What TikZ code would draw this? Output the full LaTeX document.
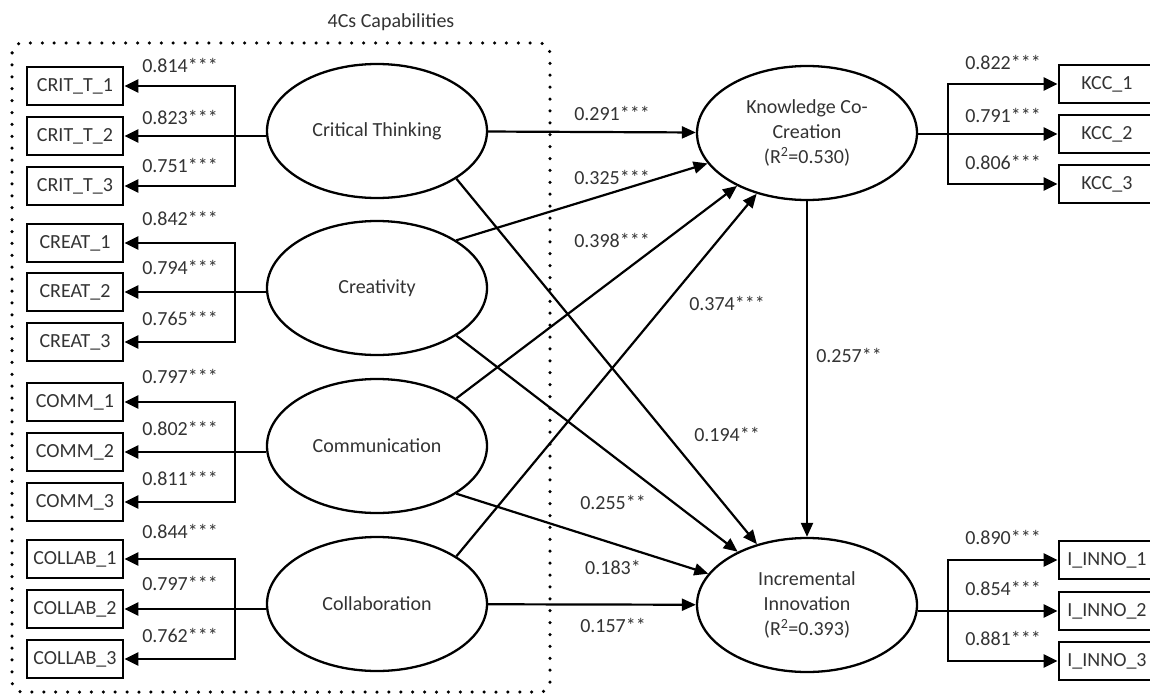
\documentclass[tikz,border=0pt]{standalone}
\usepackage{fontspec}
\setmainfont{Carlito}
\usetikzlibrary{arrows.meta,shapes.geometric}
\begin{document}
\begin{tikzpicture}[x=1pt,y=-1pt,
  every node/.style={font=\fontsize{20}{25}\selectfont, text=black!80},
  ind/.style={draw=black, line width=2.8pt, minimum width=96pt, minimum height=38pt, inner sep=0pt},
  lat/.style={ellipse, draw=black, line width=2.3pt, minimum width=220pt, minimum height=134pt, inner sep=0pt, align=center},
  tip/.style={Triangle[length=14pt,width=13pt]},
  ld/.style={line width=2.5pt, -{Triangle[length=14pt,width=13pt]}},
  ldd/.style={line width=2.5pt, {Triangle[length=14pt,width=13pt]}-{Triangle[length=14pt,width=13pt]}},
  pth/.style={line width=2.2pt, -{Triangle[length=14pt,width=12pt]}},
  frame/.style={line width=3.5pt, line cap=round, dash pattern=on 0pt off 11.9pt, rounded corners=10pt}
  ]
\useasboundingbox (0,0) rectangle (1150,693);

% frame
\draw[frame] (12,43) rectangle (550,692);
\node (title) at (391,22) {4Cs Capabilities};

% latent variables
\node[lat] (ct) at (377,131) {Critical Thinking};
\node[lat] (cr) at (377,288) {Creativity};
\node[lat] (cm) at (377,446) {Communication};
\node[lat] (cl) at (377,604) {Collaboration};
\node[lat] (kcc) at (807,133) {Knowledge Co-\\Creation\\(R\textsuperscript{2}=0.530)};
\node[lat] (ii) at (807,605) {Incremental\\Innovation\\(R\textsuperscript{2}=0.393)};

% indicators left
\node[ind] (c1) at (75,86) {CRIT\_T\_1};
\node[ind] (c2) at (75,136) {CRIT\_T\_2};
\node[ind] (c3) at (75,186) {CRIT\_T\_3};
\node[ind] (r1) at (75,243) {CREAT\_1};
\node[ind] (r2) at (75,292) {CREAT\_2};
\node[ind] (r3) at (75,342) {CREAT\_3};
\node[ind] (m1) at (75,402) {COMM\_1};
\node[ind] (m2) at (75,452) {COMM\_2};
\node[ind] (m3) at (75,502) {COMM\_3};
\node[ind] (l1) at (75,559) {COLLAB\_1};
\node[ind] (l2) at (75,609) {COLLAB\_2};
\node[ind] (l3) at (75,659) {COLLAB\_3};

% indicators right
\node[ind] (k1) at (1107,84) {KCC\_1};
\node[ind] (k2) at (1107,134) {KCC\_2};
\node[ind] (k3) at (1107,184) {KCC\_3};
\node[ind] (i1) at (1107,560) {I\_INNO\_1};
\node[ind] (i2) at (1107,611) {I\_INNO\_2};
\node[ind] (i3) at (1107,661) {I\_INNO\_3};

\coordinate (lj) at (235,0);
\coordinate (rj) at (948,0);

% loadings left
\foreach \e/\a/\b/\c in {ct/c1/c2/c3, cr/r1/r2/r3, cm/m1/m2/m3, cl/l1/l2/l3}{
  \draw[ldd] (\a.east) -- (lj |- \a.east) -- (lj |- \c.east) -- (\c.east);
  \draw[ld] (\e.west |- \b.east) -- (\b.east);
}
% loadings right
\foreach \e/\a/\b/\c in {kcc/k1/k2/k3, ii/i1/i2/i3}{
  \draw[ldd] (\a.west) -- (rj |- \a.west) -- (rj |- \c.west) -- (\c.west);
  \draw[ld] (\e.east |- \b.west) -- (\b.west);
}

% structural paths
\draw[pth] (ct) -- (kcc);
\draw[pth] (cr.31.6) -- (kcc);
\draw[pth] (cm.31.6) -- (kcc);
\draw[pth] (cl.31.6) -- (kcc);
\draw[pth] (ct.-31.6) -- (ii);
\draw[pth] (cr.-31.6) -- (ii);
\draw[pth] (cm.-31.6) -- (ii);
\draw[pth] (cl) -- (ii);
\draw[pth] (kcc) -- (ii);

% loading labels
\node (lc1) at (180,65) {0.814***};
\node (lc2) at (180,117) {0.823***};
\node (lc3) at (180,165) {0.751***};
\node (lr1) at (180,218) {0.842***};
\node (lr2) at (180,267) {0.794***};
\node (lr3) at (180,318) {0.765***};
\node (lm1) at (180,376) {0.797***};
\node (lm2) at (180,428) {0.802***};
\node (lm3) at (180,478) {0.811***};
\node (ll1) at (180,531) {0.844***};
\node (ll2) at (180,583) {0.797***};
\node (ll3) at (180,635) {0.762***};
\node (lk1) at (1003,62) {0.822***};
\node (lk2) at (1003,115) {0.791***};
\node (lk3) at (1003,162) {0.806***};
\node (li1) at (1003,537) {0.890***};
\node (li2) at (1003,588) {0.854***};
\node (li3) at (1003,638) {0.881***};

% path labels
\node (p1) at (612,113) {0.291***};
\node (p2) at (612,177) {0.325***};
\node (p3) at (612,240) {0.398***};
\node (p4) at (727,303) {0.374***};
\node (p5) at (849,355) {0.257**};
\node (p6) at (727,434) {0.194**};
\node (p7) at (613,502) {0.255**};
\node (p8) at (613,567) {0.183*};
\node (p9) at (613,625) {0.157**};
\end{tikzpicture}
\end{document}
